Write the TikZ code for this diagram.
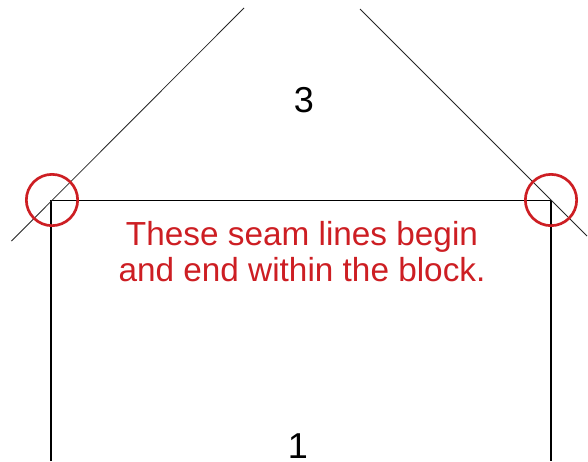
\documentclass[tikz,border=0pt]{standalone}
\usepackage{fontspec}
\setmainfont{Liberation Sans}
\definecolor{seamred}{RGB}{205,30,35}
\begin{document}
\begin{tikzpicture}[x={(0.75pt,0)},y={(0,-0.75pt)},
  blockline/.style={draw=black,line width=0.9pt},
  seamline/.style={draw=black!85,line width=0.6pt},
  marker/.style={circle,draw=seamred,line width=2pt,minimum size=38.5pt,inner sep=0pt},
  redtext/.style={text=seamred,font=\fontsize{25}{30}\selectfont,inner sep=0pt,anchor=base},
  bignum/.style={font=\fontsize{27}{30}\selectfont,inner sep=0pt,anchor=base}]
\useasboundingbox[fill=white] (0,0) rectangle (588,461);
\coordinate (TL) at (51,200.5);
\coordinate (TR) at (551,200.5);
\coordinate (BL) at (51,461);
\coordinate (BR) at (551,461);
\coordinate (L1) at (11.5,241);
\coordinate (L2) at (244,8);
\coordinate (R1) at (360,9);
\coordinate (R2) at (587,236);
\draw[blockline] (BL) -- (TL) -- (TR) -- (BR);
\draw[seamline] (L1) -- (L2);
\draw[seamline] (R1) -- (R2);
\node[marker] (cL) at (52,200) {};
\node[marker] (cR) at (551,200) {};
\node[bignum] (n3) at (304,112) {3};
\node[bignum] (n1) at (298,458) {1};
\node[redtext] (t1) at (302,245.5) {These seam lines begin};
\node[redtext] (t2) at (302,281.5) {and end within the block.};
\end{tikzpicture}
\end{document}
